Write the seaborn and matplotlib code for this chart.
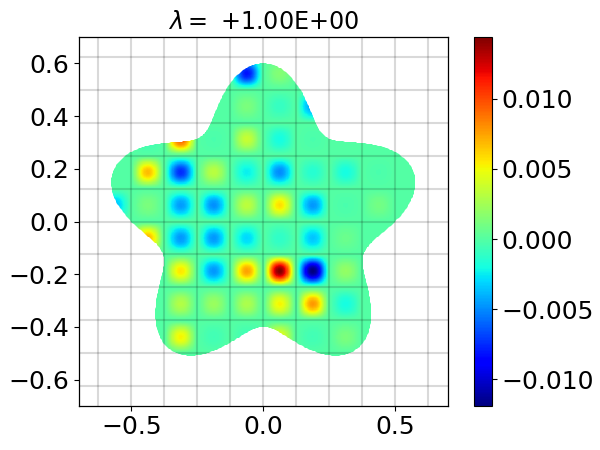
import numpy as np
import matplotlib
matplotlib.use("Agg")
import matplotlib.pyplot as plt
from matplotlib.path import Path
import seaborn as sns

# Mode amplitudes per grid cell, columns left to right from x = -0.5625 to 0.5625 in steps of 0.125
row_p0562 = [0, 0, 0, 0, -0.0082, 0.0015, 0, 0, 0, 0]
row_p0438 = [0, 0, 0, 0, 0.0012, -0.0010, -0.0045, 0, 0, 0]
row_p0312 = [-0.005, -0.0006, 0.0095, -0.0003, 0.0036, -0.0020, -0.0003, 0, 0, 0]
row_p0188 = [0, 0.0068, -0.0075, 0.0032, -0.0024, -0.0050, -0.0015, -0.0020, -0.0003, 0]
row_p0062 = [-0.0035, 0.0012, -0.0046, -0.0049, 0.0033, 0.0058, -0.0047, -0.0003, 0.0010, 0]
row_m0062 = [0, 0.0068, -0.0047, -0.0047, -0.0030, -0.0012, -0.0035, 0.0007, 0, 0]
row_m0188 = [0, 0, 0.0056, -0.0047, 0.0075, 0.0144, -0.0119, 0.0020, 0, 0]
row_m0312 = [0, 0, 0.0030, 0.0022, 0.0028, 0.0052, 0.0078, -0.0020, 0, 0]
row_m0438 = [0, 0, 0.0052, -0.0006, -0.0006, 0.0045, -0.0006, 0.0012, 0, 0]

rows = [row_p0562, row_p0438, row_p0312, row_p0188, row_p0062,
        row_m0062, row_m0188, row_m0312, row_m0438]
row_centers = [0.5625, 0.4375, 0.3125, 0.1875, 0.0625,
               -0.0625, -0.1875, -0.3125, -0.4375]
col_centers = [-0.5625, -0.4375, -0.3125, -0.1875, -0.0625,
               0.0625, 0.1875, 0.3125, 0.4375, 0.5625]

x_ticks = [-0.5, 0.0, 0.5]
y_ticks = [-0.6, -0.4, -0.2, 0.0, 0.2, 0.4, 0.6]
cbar_ticks = [-0.010, -0.005, 0.0, 0.005, 0.010]
vmin, vmax = -0.0119, 0.01441
title = r"$\lambda=$ +1.00E+00"
FS = 18

sns.set_style("ticks")
plt.rcParams["font.family"] = "DejaVu Sans"
plt.rcParams["mathtext.fontset"] = "dejavusans"

# Sampled field: each cell holds a bump that vanishes on the cell border
L, N, cell = 0.7, 700, 0.125
dx = 2 * L / N
centres = -L + dx * (np.arange(N) + 0.5)
field = np.zeros((N, N))
window = lambda t: np.where(np.abs(t) < 0.5, np.cos(np.pi * np.clip(t, -0.5, 0.5)) ** 1.3, 0.0)
for yc, row in zip(row_centers, rows):
    wy = window((centres - yc) / cell)
    for xc, val in zip(col_centers, row):
        field += val * np.outer(wy, window((centres - xc) / cell))

to_idx = lambda v: (np.asarray(v) + L) / dx

fig = plt.figure(figsize=(6, 4.5), dpi=100)
ax = fig.add_axes([78.5 / 600, 1 - 406 / 450, 369.5 / 600, 369 / 450])
cax = fig.add_axes([473.5 / 600, 1 - 406 / 450, 18 / 600, 369 / 450])

sns.heatmap(field, ax=ax, cbar_ax=cax, cmap="jet", vmin=vmin, vmax=vmax,
            xticklabels=False, yticklabels=False, rasterized=True)
ax.set_xlim(0, N)
ax.set_ylim(0, N)

# Star-shaped domain boundary used as the clip outline
theta = np.linspace(0, 2 * np.pi, 721)
radius = 0.5 + 0.1 * np.sin(5 * theta)
outline = Path(np.column_stack([to_idx(radius * np.cos(theta)),
                                to_idx(radius * np.sin(theta))]))
ax.collections[0].set_clip_path(outline, ax.transData)

for g in np.arange(-5, 6) * cell:
    ax.axvline(to_idx(g), color="black", alpha=0.15, lw=1.5, zorder=5)
    ax.axhline(to_idx(g), color="black", alpha=0.15, lw=1.5, zorder=5)

ax.set_xticks(to_idx(x_ticks))
ax.set_xticklabels([f"{t:.1f}".replace("-", "\u2212") for t in x_ticks], rotation=0)
ax.set_yticks(to_idx(y_ticks))
ax.set_yticklabels([f"{t:.1f}".replace("-", "\u2212") for t in y_ticks], rotation=0)
ax.tick_params(axis="both", labelsize=FS, length=3.3, width=0.8, color="black",
               labelcolor="black", left=True, bottom=True)
for spine in ax.spines.values():
    spine.set_visible(True)
    spine.set_color("black")
    spine.set_linewidth(0.9)
ax.set_title(title, fontsize=17.2, color="black", pad=5.6)

cbar = ax.collections[0].colorbar
cbar.set_ticks(cbar_ticks)
cbar.set_ticklabels([f"{t:.3f}".replace("-", "\u2212") for t in cbar_ticks])
cbar.ax.tick_params(labelsize=FS, length=3.3, width=0.8, color="black", labelcolor="black", right=True)
cbar.outline.set_visible(True)
cbar.outline.set_edgecolor("black")
cbar.outline.set_linewidth(0.8)

fig.savefig("out.png", dpi=100)
